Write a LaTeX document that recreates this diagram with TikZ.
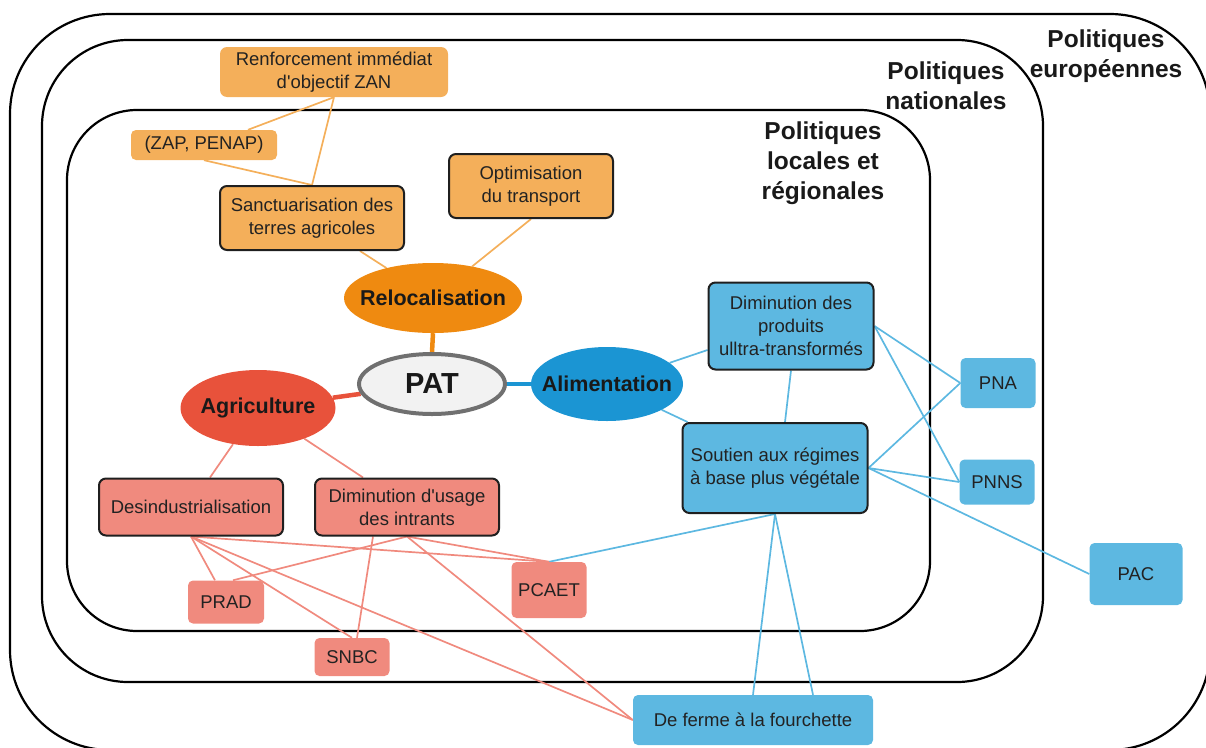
\documentclass[tikz,border=0pt]{standalone}
\usepackage{fontspec}
\setmainfont{Liberation Sans}
\usetikzlibrary{shapes.geometric,calc}
\pgfdeclarelayer{background}
\pgfsetlayers{background,main}
\definecolor{orlight}{HTML}{F4AF5A}
\definecolor{orstrong}{HTML}{EF8A10}
\definecolor{redel}{HTML}{E8523B}
\definecolor{salmon}{HTML}{F08A7E}
\definecolor{blueel}{HTML}{1B95D3}
\definecolor{bluebox}{HTML}{5DB8E1}
\definecolor{patfill}{HTML}{F2F2F2}
\definecolor{patline}{HTML}{707070}
\definecolor{txt}{HTML}{222222}
\tikzset{
  box/.style={rectangle, rounded corners=7pt, inner sep=0pt, align=center, text=txt,
    font=\fontsize{18.5}{23}\selectfont},
  framed/.style={draw=black!88, line width=2pt},
  obox/.style={box, fill=orlight},
  sbox/.style={box, fill=salmon},
  bbox/.style={box, fill=bluebox},
  ell/.style={ellipse, inner sep=0pt, text=black!90, font=\bfseries\fontsize{21.5}{26}\selectfont},
  policy/.style={draw=black, line width=2.2pt},
  ptitle/.style={align=center, text=black!90, font=\bfseries\fontsize{24.5}{30}\selectfont},
  oline/.style={draw=orlight, line width=1.7pt},
  sline/.style={draw=salmon, line width=1.7pt},
  bline/.style={draw=bluebox, line width=1.7pt},
  thick link/.style={line width=4.5pt},
}
\begin{document}
\begin{tikzpicture}[x=1pt,y=-1pt]
\useasboundingbox (0,0) rectangle (1206,747);
% policy frames
\begin{pgfonlayer}{background}
\draw[policy, rounded corners=100pt] (10,14) rectangle (1210,750);
\draw[policy, rounded corners=86pt] (42,40) rectangle (1043,682);
\draw[policy, rounded corners=70pt] (67,110) rectangle (930,631);
\end{pgfonlayer}
\node[ptitle] (teu) at (1106,56) {Politiques\\européennes};
\node[ptitle] (tnat) at (946,86) {Politiques\\nationales};
\node[ptitle] (tloc) at (823,163) {Politiques\\locales et\\régionales};
% nodes
\node[obox, minimum width=228pt, minimum height=50pt] (zan) at (334,72) {Renforcement immédiat\\d\textquotesingle objectif ZAN};
\node[obox, minimum width=146pt, minimum height=30pt, rounded corners=5pt] (zap) at (204,145) {(ZAP, PENAP)};
\node[obox, framed, minimum width=184pt, minimum height=64pt] (sanct) at (312,218) {Sanctuarisation des\\terres agricoles};
\node[obox, framed, minimum width=164pt, minimum height=64pt] (optim) at (531,186) {Optimisation\\du transport};
\node[ell, fill=orstrong, minimum width=178pt, minimum height=70pt] (reloc) at (433,298) {\makebox[0pt]{Relocalisation}};
\node[ell, fill=patfill, draw=patline, line width=4pt, minimum width=146pt, minimum height=60pt,
      font=\bfseries\fontsize{29}{34}\selectfont] (pat) at (432,384) {\makebox[0pt]{PAT}};
\node[ell, fill=blueel, minimum width=152pt, minimum height=74pt] (alim) at (607,384) {\makebox[0pt]{Alimentation}};
\node[ell, fill=redel, minimum width=155pt, minimum height=76pt] (agri) at (258,408) {\makebox[0pt]{Agriculture}};
\node[sbox, framed, minimum width=184pt, minimum height=57pt] (desind) at (191,507) {Desindustrialisation};
\node[sbox, framed, minimum width=184pt, minimum height=57pt] (dimint) at (407,507) {Diminution d\textquotesingle usage\\des intrants};
\node[sbox, minimum width=76pt, minimum height=43pt, rounded corners=5pt] (prad) at (226,602) {PRAD};
\node[sbox, minimum width=75pt, minimum height=38pt, rounded corners=5pt] (snbc) at (352,657) {SNBC};
\node[sbox, minimum width=75pt, minimum height=56pt, rounded corners=5pt] (pcaet) at (549,590) {PCAET};
\node[bbox, framed, minimum width=165pt, minimum height=87pt] (dimprod) at (791,326) {Diminution des\\produits\\ulltra-transformés};
\node[bbox, framed, minimum width=185pt, minimum height=90pt] (soutien) at (775,468) {Soutien aux régimes\\à base plus végétale};
\node[bbox, minimum width=75pt, minimum height=50pt, rounded corners=5pt] (pna) at (998,383) {PNA};
\node[bbox, minimum width=75pt, minimum height=45pt, rounded corners=5pt] (pnns) at (997,482) {PNNS};
\node[bbox, minimum width=93pt, minimum height=62pt, rounded corners=5pt] (pac) at (1136,574) {PAC};
\node[bbox, minimum width=240pt, minimum height=50pt, rounded corners=5pt] (ferme) at (753,720) {De ferme à la fourchette};
% connectors
\begin{pgfonlayer}{background}
\draw[oline] (zan.south) -- ([xshift=44pt]zap.north);
\draw[oline] (zan.south) -- (sanct.north);
\draw[oline] (zap.south) -- (sanct.north);
\draw[oline] ([xshift=48pt]sanct.south) -- (reloc);
\draw[oline] (optim.south) -- (reloc);
\draw[thick link, draw=orstrong] (reloc.south) -- (pat.north);
\draw[thick link, draw=redel] (agri) -- (pat);
\draw[thick link, draw=blueel] (pat) -- (alim);
\draw[bline] (alim) -- ([yshift=-24pt]dimprod.west);
\draw[bline] (alim) -- ([xshift=6pt]soutien.north west);
\draw[bline] (dimprod.south) -- ([xshift=10pt]soutien.north);
\draw[bline] (dimprod.east) -- (pna.west);
\draw[bline] (dimprod.east) -- (pnns.west);
\draw[bline] (soutien.east) -- (pna.west);
\draw[bline] (soutien.east) -- (pnns.west);
\draw[bline] (soutien.east) -- (pac.west);
\draw[bline] (soutien.south) -- (pcaet.north);
\draw[bline] (soutien.south) -- (ferme.north);
\draw[bline] (soutien.south) -- ([xshift=60pt]ferme.north);
\draw[sline] (agri) -- ([xshift=19pt]desind.north);
\draw[sline] (agri) -- ([xshift=-44pt]dimint.north);
\draw[sline] (desind.south) -- ([xshift=-11pt]prad.north);
\draw[sline] (desind.south) -- (snbc.north);
\draw[sline] (desind.south) -- (pcaet.north);
\draw[sline] (desind.south) -- (ferme.west);
\draw[sline] (dimint.south) -- ([xshift=7pt]prad.north);
\draw[sline] ([xshift=-34pt]dimint.south) -- ([xshift=5pt]snbc.north);
\draw[sline] (dimint.south) -- (pcaet.north);
\draw[sline] (dimint.south) -- (ferme.west);
\end{pgfonlayer}
\end{tikzpicture}
\end{document}
